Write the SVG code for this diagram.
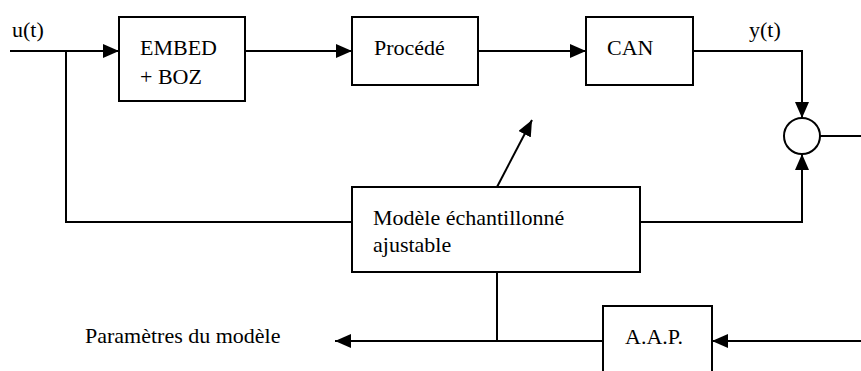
<svg xmlns="http://www.w3.org/2000/svg" width="861" height="371" viewBox="0 0 861 371">
<style>
.box{fill:#fff;stroke:#000;stroke-width:2}
.ln{fill:none;stroke:#000;stroke-width:2}
text{font-size:22px;fill:#000}
</style>
<defs>
<marker id="ah" viewBox="0 0 16 14" refX="16" refY="7" markerWidth="16" markerHeight="14" markerUnits="userSpaceOnUse" orient="auto">
<path d="M0,0 L16,7 L0,14 Z" fill="#000"/>
</marker>
</defs>
<rect width="861" height="371" fill="#fff"/>
<g id="connectors">
<path class="ln" d="M10,51 H119" marker-end="url(#ah)"/>
<path class="ln" d="M66,51 V222 H352"/>
<path class="ln" d="M245,51 H352" marker-end="url(#ah)"/>
<path class="ln" d="M478,51 H586" marker-end="url(#ah)"/>
<path class="ln" d="M693,51 H802 V118" marker-end="url(#ah)"/>
<path class="ln" d="M640,222 H802 V154" marker-end="url(#ah)"/>
<path class="ln" d="M820,136 H861"/>
<path class="ln" d="M497,187 L532,120" marker-end="url(#ah)"/>
<path class="ln" d="M497,272 V341"/>
<path class="ln" d="M603,341 H335" marker-end="url(#ah)"/>
<path class="ln" d="M861,341 H712" marker-end="url(#ah)"/>
</g>
<g font-family="Liberation Serif, serif">
<g id="u">
<text x="12" y="37">u(t)</text>
</g>
<g id="y">
<text x="749" y="37">y(t)</text>
</g>
<g id="embed">
<rect class="box" x="119" y="17" width="126" height="84"/>
<text x="140" y="55">EMBED</text>
<text x="140" y="84">+ BOZ</text>
</g>
<g id="procede">
<rect class="box" x="352" y="17" width="126" height="68"/>
<text x="374" y="55">Procédé</text>
</g>
<g id="can">
<rect class="box" x="586" y="17" width="107" height="68"/>
<text x="607" y="55">CAN</text>
</g>
<g id="sum">
<circle class="box" cx="802" cy="136" r="18"/>
</g>
<g id="modele">
<rect class="box" x="352" y="187" width="288" height="85"/>
<text x="373" y="225">Modèle échantillonné</text>
<text x="373" y="252">ajustable</text>
</g>
<g id="aap">
<rect class="box" x="603" y="306" width="109" height="70"/>
<text x="625" y="344">A.A.P.</text>
</g>
<g id="params">
<text x="85" y="343">Paramètres du modèle</text>
</g>
</g>
</svg>
